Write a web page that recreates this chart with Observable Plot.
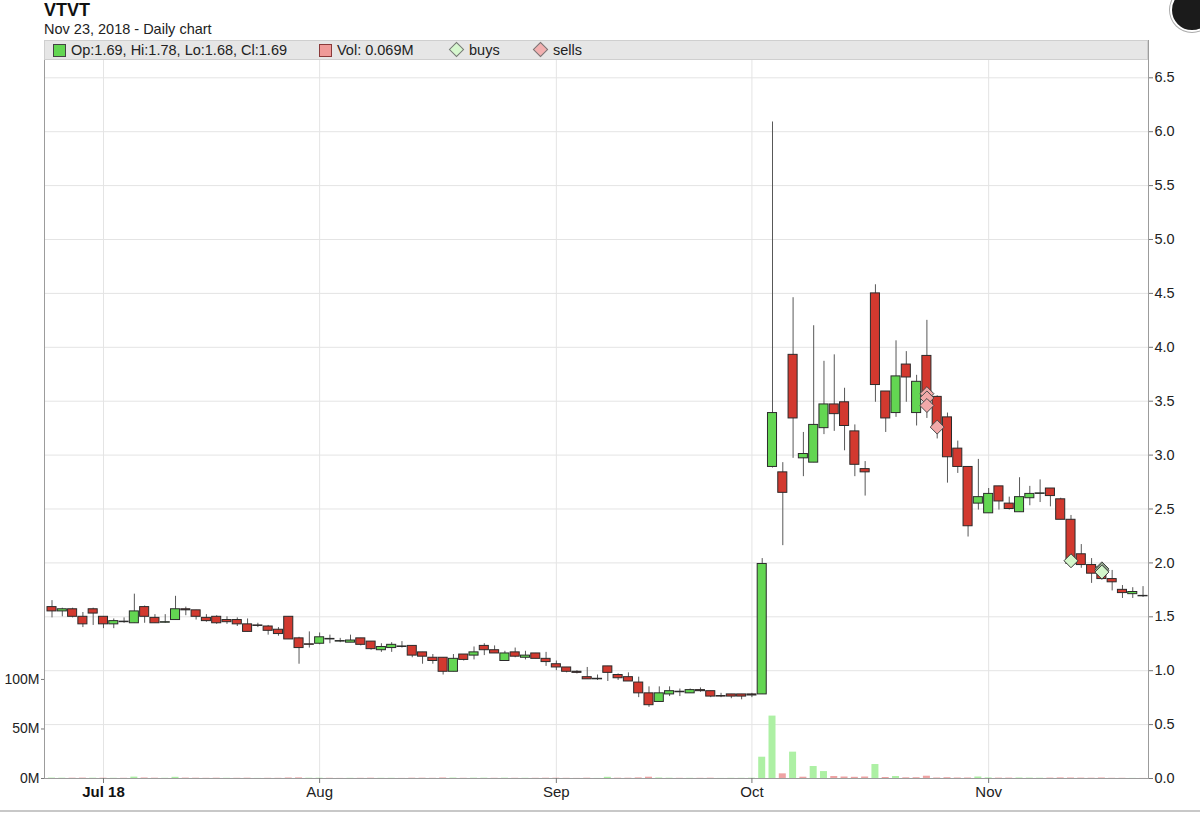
<!DOCTYPE html>
<html><head><meta charset="utf-8">
<script src="https://cdn.jsdelivr.net/npm/d3@7"></script>
<script src="https://cdn.jsdelivr.net/npm/@observablehq/plot@0.6"></script>
<style>
body{margin:0;background:#fff;font-family:"Liberation Sans",Arial,sans-serif;}
#wrap{position:relative;width:1200px;height:821px;overflow:hidden;background:#fff;}
.abs{position:absolute;}
#title{left:44px;top:0px;font-size:18px;font-weight:bold;color:#111;}
#sub{left:44px;top:21px;font-size:14.5px;color:#222;}
#legend{left:44px;top:40px;width:1104px;height:20px;background:#e6e6e6;border:1px solid #cfcfcf;box-sizing:border-box;font-size:14.5px;color:#222;z-index:5;}
.item{position:absolute;top:0px;line-height:18px;white-space:nowrap;}
.sq{display:inline-block;width:13px;height:13px;border:1px solid #444;vertical-align:-2px;margin-right:5px;box-sizing:border-box;}
.dm{display:inline-block;width:9px;height:9px;border:1px solid #777;transform:rotate(45deg);margin:0 7px 0 2px;vertical-align:0px;}
#chart,#vol{left:0;top:40px;}
#vol{z-index:2;}
#bottomline{left:0;top:810px;width:1200px;height:2px;background:#c8c8c8;}
#corner{left:1170px;top:-12px;width:40px;height:40px;border-radius:50%;background:#1b1b1b;border:2px solid #fff;box-shadow:0 0 0 1px #aaa;}
</style></head>
<body>
<div id="wrap">
  <div id="title" class="abs">VTVT</div>
  <div id="sub" class="abs">Nov 23, 2018 - Daily chart</div>
  <div id="chart" class="abs"></div>
  <div id="vol" class="abs"></div>
  <div id="legend" class="abs"></div>
  <div id="bottomline" class="abs"></div>
  <div id="corner" class="abs"></div>
</div>
<script>
// ---- data (trading-day index 0 = Jun 25 2018 ... 106 = Nov 23 2018) ----
const open  = [1.59,1.55,1.57,1.50,1.57,1.50,1.43,1.45,1.44,1.59,1.49,1.445,1.47,1.57,1.56,1.49,1.50,1.47,1.47,1.43,1.42,1.41,1.38,1.50,1.30,1.245,1.25,1.29,1.27,1.26,1.30,1.27,1.19,1.21,1.22,1.23,1.17,1.12,1.12,0.99,1.15,1.14,1.23,1.19,1.09,1.17,1.12,1.16,1.11,1.06,1.03,0.99,0.94,0.925,1.04,0.96,0.94,0.89,0.79,0.71,0.78,0.80,0.79,0.82,0.81,0.765,0.78,0.78,0.78,0.78,2.89,2.84,3.93,2.97,2.93,3.25,3.47,3.49,3.22,2.87,4.50,3.59,3.39,3.84,3.39,3.92,3.54,3.35,3.06,2.89,2.55,2.46,2.71,2.55,2.47,2.60,2.64,2.69,2.59,2.40,2.08,1.98,1.96,1.85,1.75,1.71,1.694];
const high  = [1.65,1.58,1.58,1.54,1.58,1.50,1.48,1.49,1.71,1.60,1.52,1.52,1.69,1.59,1.56,1.52,1.51,1.50,1.49,1.48,1.44,1.42,1.40,1.50,1.31,1.36,1.35,1.33,1.30,1.33,1.30,1.27,1.25,1.26,1.27,1.23,1.17,1.15,1.12,1.15,1.15,1.22,1.25,1.23,1.18,1.21,1.18,1.16,1.17,1.09,1.03,1.00,1.03,0.96,1.04,0.97,0.98,0.94,0.85,0.85,0.85,0.83,0.83,0.84,0.81,0.79,0.78,0.78,0.79,2.04,6.09,2.93,4.46,3.21,4.20,3.87,3.93,3.62,3.28,2.94,4.58,3.59,4.06,3.96,3.74,4.25,3.55,3.39,3.13,2.89,2.96,2.69,2.71,2.61,2.79,2.71,2.77,2.69,2.60,2.44,2.17,2.04,1.98,1.93,1.79,1.77,1.78];
const low   = [1.49,1.50,1.49,1.40,1.42,1.39,1.39,1.44,1.44,1.44,1.44,1.44,1.47,1.51,1.47,1.45,1.43,1.43,1.41,1.36,1.40,1.33,1.32,1.29,1.06,1.21,1.24,1.25,1.26,1.26,1.23,1.19,1.17,1.17,1.21,1.12,1.06,1.06,0.96,0.99,1.09,1.10,1.14,1.16,1.09,1.12,1.10,1.11,1.04,1.00,0.98,0.97,0.92,0.91,0.90,0.91,0.90,0.75,0.66,0.71,0.76,0.76,0.79,0.80,0.75,0.75,0.74,0.73,0.75,0.78,2.88,2.16,2.97,2.80,2.93,3.19,3.22,3.04,2.80,2.62,3.49,3.21,3.35,3.49,3.27,3.34,3.15,2.74,2.83,2.24,2.49,2.46,2.49,2.49,2.47,2.53,2.56,2.52,2.40,1.97,1.95,1.81,1.84,1.74,1.67,1.67,1.68];
const close = [1.55,1.57,1.50,1.43,1.53,1.43,1.46,1.455,1.55,1.50,1.44,1.45,1.57,1.56,1.50,1.46,1.44,1.45,1.43,1.36,1.415,1.37,1.34,1.29,1.21,1.24,1.31,1.295,1.275,1.28,1.24,1.20,1.22,1.24,1.225,1.14,1.13,1.09,0.99,1.11,1.10,1.17,1.19,1.16,1.16,1.13,1.14,1.11,1.08,1.03,0.99,0.98,0.92,0.92,0.98,0.93,0.90,0.79,0.68,0.79,0.81,0.805,0.82,0.81,0.76,0.76,0.76,0.76,0.77,1.99,3.39,2.65,3.34,3.01,3.28,3.47,3.38,3.27,2.91,2.84,3.65,3.34,3.73,3.72,3.68,3.58,3.27,2.98,2.89,2.34,2.61,2.64,2.57,2.50,2.61,2.64,2.645,2.62,2.40,1.99,1.98,1.90,1.85,1.82,1.72,1.73,1.69];
const volumeM = [0.4,0.3,0.3,0.4,0.3,0.3,0.2,0.2,1.4,0.5,0.3,0.2,1.2,0.4,0.3,0.2,0.3,0.2,0.2,0.3,0.1,0.2,0.2,0.5,0.6,0.3,0.3,0.2,0.1,0.2,0.2,0.3,0.2,0.2,0.1,0.3,0.3,0.2,0.5,0.4,0.2,0.3,0.3,0.2,0.3,0.2,0.2,0.2,0.3,0.3,0.2,0.1,0.3,0.1,1.2,0.3,0.3,0.6,1.3,0.5,0.3,0.2,0.2,0.2,0.3,0.1,0.2,0.2,0.3,21.5,63,4.7,26.6,1.3,12.1,7.0,2.0,1.5,1.2,1.5,14.1,1.0,2.0,0.7,0.8,2.3,0.5,0.8,0.5,0.5,1.5,0.6,0.4,0.4,0.5,0.4,0.3,0.4,0.6,0.5,0.4,0.3,0.5,0.2,0.2,0.1,0.069];

const monthTickIdx = [5, 26, 49, 68, 91];
const monthTickLabels = ["Jul 18", "Aug", "Sep", "Oct", "Nov"];
const priceTicks = [0,0.5,1,1.5,2,2.5,3,3.5,4,4.5,5,5.5,6,6.5];
const volTicks = [0, 50, 100];

const sellIdx = [85, 85, 85, 86];
const sellPx  = [3.57, 3.53, 3.46, 3.26];
const buyIdx  = [99, 102, 102, 102];
const buyPx   = [2.02, 1.945, 1.93, 1.915];

// ---- styles ----
const GREEN = "#63d652", RED = "#d2392f", EDGE = "#2b2b2b", WICK = "#585858";
const VGREEN = "#adf0a4", VRED = "#eea3a3";
const FONT = "'Liberation Sans', Arial, sans-serif";

const candles = open.map((o, i) => ({
  i, o, h: high[i], l: low[i], c: close[i], v: volumeM[i],
  up: close[i] >= o,
  vup: i === 0 ? true : close[i] >= close[i - 1]
}));
const sells = sellIdx.map((i, k) => ({i, p: sellPx[k]}));
const buys = buyIdx.map((i, k) => ({i, p: buyPx[k]}));

const W = 1200, H = 781, ML = 44, MR = 52, MT = 0, MB = 43;
const xDomain = [-0.73, 106.53];

const lbl = i => monthTickLabels[monthTickIdx.indexOf(i)];

const price = Plot.plot({
  width: W, height: H, marginLeft: ML, marginRight: MR, marginTop: MT, marginBottom: MB,
  style: {fontFamily: FONT, fontSize: "14px", color: "#222", background: "transparent", overflow: "visible"},
  x: {domain: xDomain},
  y: {domain: [0, 6.846]},
  color: {type: "identity"},
  marks: [
    Plot.gridY(priceTicks, {stroke: "#e4e4e4", strokeOpacity: 1}),
    Plot.gridX(monthTickIdx, {stroke: "#e4e4e4", strokeOpacity: 1}),
    Plot.ruleX(candles, {x: "i", y1: "l", y2: "h", stroke: WICK, strokeWidth: 1}),
    Plot.rect(candles, {
      x1: d => d.i - 0.44, x2: d => d.i + 0.44, y1: "o", y2: "c",
      fill: d => d.up ? GREEN : RED, stroke: EDGE, strokeWidth: 1
    }),
    Plot.dot(sells, {x: "i", y: "p", symbol: "diamond2", r: 6.3, fill: "#f2a9a9", stroke: "#4a4a4a", strokeWidth: 1}),
    Plot.dot(buys, {x: "i", y: "p", symbol: "diamond2", r: 6.3, fill: "#d3f6cb", stroke: "#3a3a3a", strokeWidth: 1}),
    Plot.frame({stroke: "#9c9c9c"}),
    Plot.axisY(priceTicks, {anchor: "right", tickFormat: d3.format(".1f"), tickSize: 4, tickPadding: 2, fontSize: 14.5, stroke: "#777", fill: "#222", label: null}),
    Plot.axisX([monthTickIdx[0]], {tickFormat: lbl, tickSize: 5, tickPadding: 3, fontSize: 15, fontWeight: "bold", stroke: "#777", fill: "#111", label: null}),
    Plot.axisX(monthTickIdx.slice(1), {tickFormat: lbl, tickSize: 5, tickPadding: 3, fontSize: 15, stroke: "#777", fill: "#222", label: null})
  ]
});
document.getElementById("chart").append(price);

const vol = Plot.plot({
  width: W, height: H, marginLeft: ML, marginRight: MR, marginTop: MT, marginBottom: MB,
  style: {fontFamily: FONT, fontSize: "14px", color: "#222", background: "transparent", overflow: "visible"},
  x: {domain: xDomain, axis: null},
  y: {domain: [0, 745]},
  color: {type: "identity"},
  marks: [
    Plot.rect(candles, {x1: d => d.i - 0.34, x2: d => d.i + 0.34, y1: 0, y2: "v", fill: d => d.vup ? VGREEN : VRED}),
    Plot.axisY(volTicks, {anchor: "left", tickFormat: d => d + "M", tickSize: 3, tickPadding: 2, fontSize: 14, stroke: "#777", fill: "#222", label: null})
  ]
});
document.getElementById("vol").append(vol);

// ---- legend ----
const last = candles[candles.length - 1];
const legendItems = [
  {left: 8, html: `<span class="sq" style="background:${GREEN}"></span>Op:${last.o.toFixed(2)}, Hi:${last.h.toFixed(2)}, Lo:${last.l.toFixed(2)}, Cl:${last.c.toFixed(2)}`},
  {left: 274, html: `<span class="sq" style="background:#ef9a98;border-color:#8a3a3a"></span>Vol: ${last.v.toFixed(3)}M`},
  {left: 404, html: `<span class="dm" style="background:#d6f7ce"></span>buys`},
  {left: 488, html: `<span class="dm" style="background:#f2b0b0"></span>sells`}
];
const lg = document.getElementById("legend");
legendItems.forEach(it => {
  const s = document.createElement("div");
  s.className = "item";
  s.style.left = it.left + "px";
  s.innerHTML = it.html;
  lg.append(s);
});
</script>
</body></html>
